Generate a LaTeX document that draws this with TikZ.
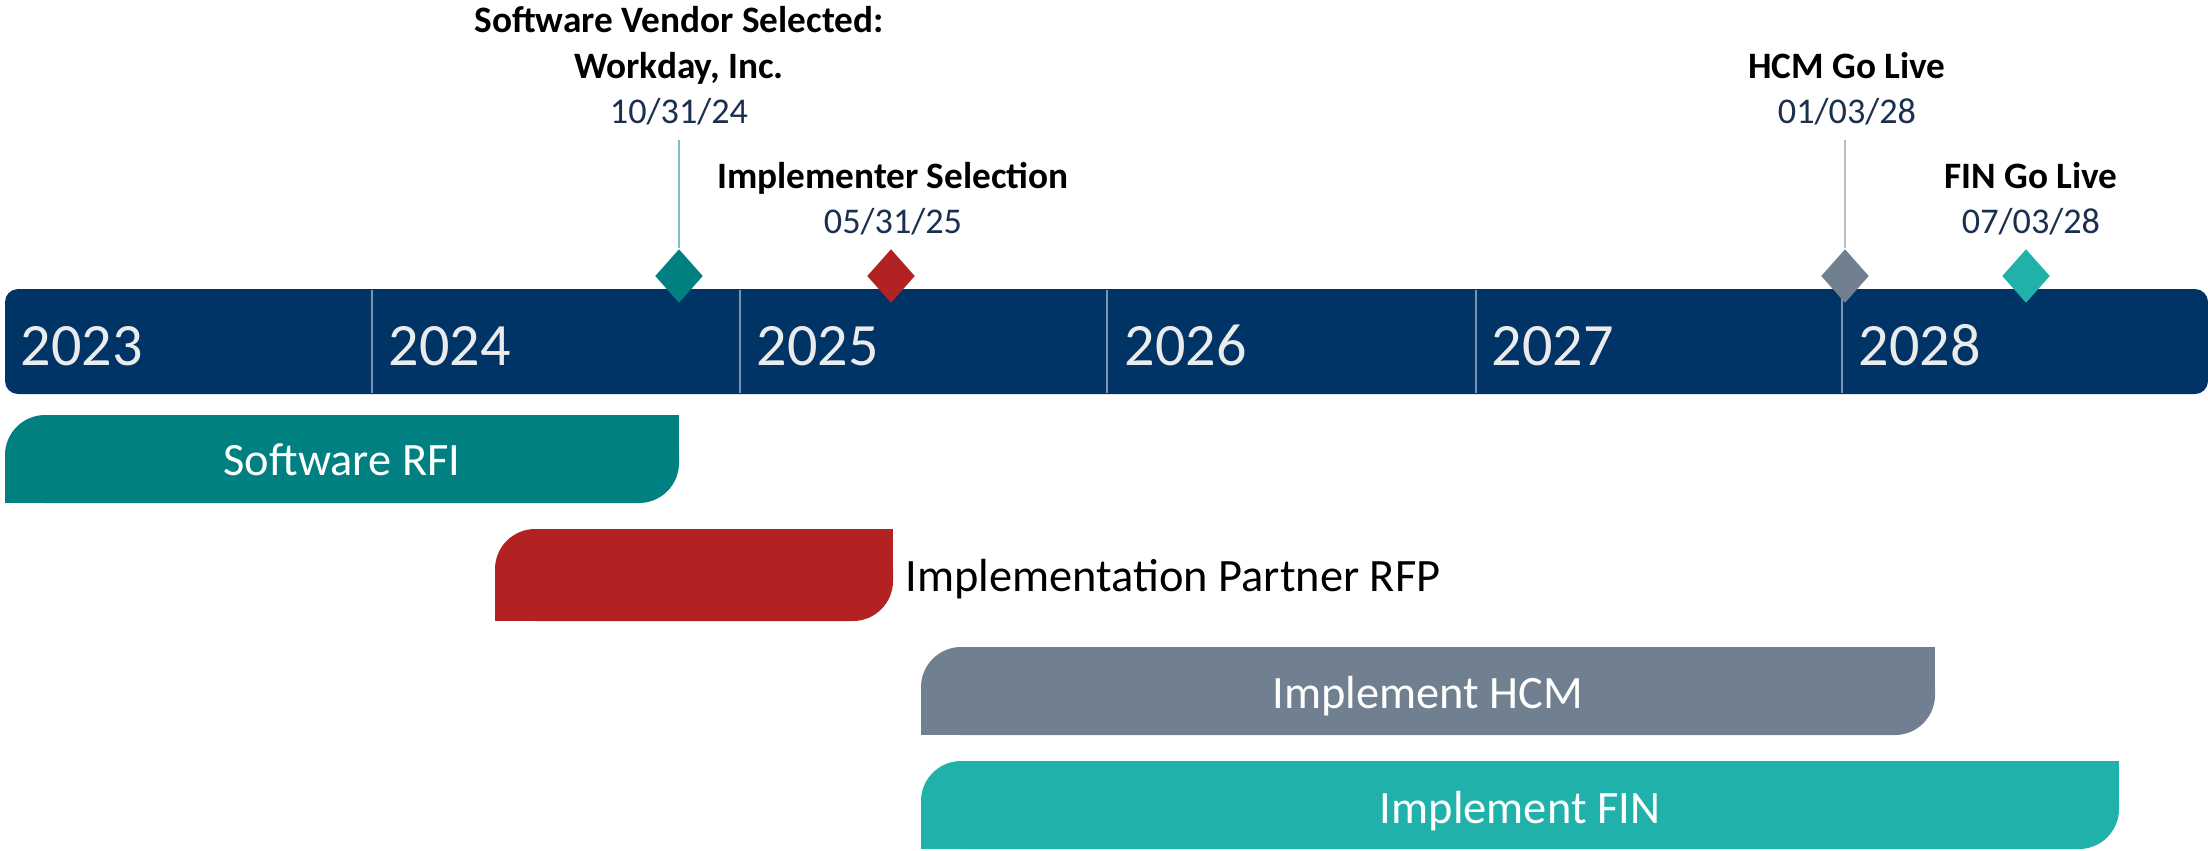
\documentclass[tikz,border=0pt]{standalone}
\usepackage{fontspec}
\setmainfont{Carlito}
\usetikzlibrary{shapes.geometric}

\definecolor{barnavy}{HTML}{003366}
\definecolor{datenavy}{HTML}{1B2F4E}
\definecolor{yeargray}{HTML}{EBEBEB}
\definecolor{yearline}{HTML}{7C93B0}
\definecolor{rfiteal}{HTML}{008080}
\definecolor{rfpred}{HTML}{B22222}
\definecolor{hcmgray}{HTML}{708090}
\definecolor{finteal}{HTML}{20B2AA}
\definecolor{tealstem}{HTML}{7FBFBF}
\definecolor{graystem}{HTML}{B4BEC9}

\tikzset{
  year/.style={anchor=base west, text=yeargray, inner sep=0pt, font=\fontsize{17.1}{20}\selectfont},
  divider/.style={yearline, line width=0.5pt},
  milestone/.style={anchor=base, inner sep=0pt, font=\fontsize{10.6}{12.7}\selectfont\bfseries},
  msdate/.style={anchor=base, inner sep=0pt, text=datenavy, font=\fontsize{10.3}{12.4}\selectfont},
  gem/.style={diamond, inner sep=0pt, minimum width=0.48cm, minimum height=0.54cm},
  stem/.style={line width=0.6pt},
  phase/.style={anchor=base, inner sep=0pt, text=white, font=\fontsize{13.2}{15.8}\selectfont}
}

\begin{document}
\begin{tikzpicture}[x=0.01cm, y=-0.01cm]

    % Fix the page to the size of the picture
    \useasboundingbox (0,0) rectangle (2208,850);

    % Year band
    \fill[barnavy, rounded corners=3.7pt] (5,289) rectangle (2208,394);

    % Year dividers
    \draw[divider] (372,290) -- (372,393);   % 2023 | 2024
    \draw[divider] (740,290) -- (740,393);   % 2024 | 2025
    \draw[divider] (1107,290) -- (1107,393); % 2025 | 2026
    \draw[divider] (1476,290) -- (1476,393); % 2026 | 2027
    \draw[divider] (1842,290) -- (1842,393); % 2027 | 2028

    % Year labels
    \node[year] (y2023) at (20,365) {2023};
    \node[year] (y2024) at (388,365) {2024};
    \node[year] (y2025) at (756,365) {2025};
    \node[year] (y2026) at (1124,365) {2026};
    \node[year] (y2027) at (1491,365) {2027};
    \node[year] (y2028) at (1858,365) {2028};

    % Milestone diamonds on the year band
    \node[gem, fill=rfiteal] (vendorgem) at (679,276) {};
    \node[gem, fill=rfpred] (partnergem) at (891,276) {};
    \node[gem, fill=hcmgray] (hcmgem) at (1845,276) {};
    \node[gem, fill=finteal] (fingem) at (2026,276) {};

    % Software vendor milestone
    \node[milestone] (vendor) at (679,32) {Software Vendor Selected:};
    \node[milestone] (vendorname) at (679,78) {Workday, Inc.};
    \node[msdate] (vendordate) at (679,123) {10/31/24};
    \coordinate (vendorstem) at (679,140);
    \draw[stem, tealstem] (vendorstem) -- (vendorgem.north);

    % Implementer milestone
    \node[milestone] (partner) at (893,188) {Implementer Selection};
    \node[msdate] (partnerdate) at (893,233) {05/31/25};

    % HCM go live milestone
    \node[milestone] (hcm) at (1847,78) {HCM Go Live};
    \node[msdate] (hcmdate) at (1847,123) {01/03/28};
    \coordinate (hcmstem) at (1845,140);
    \draw[stem, graystem] (hcmstem) -- (hcmgem.north);

    % FIN go live milestone
    \node[milestone] (fin) at (2031,188) {FIN Go Live};
    \node[msdate] (findate) at (2031,233) {07/03/28};

    % Software RFI phase
    \fill[rfiteal, rounded corners=11.4pt] (5,415) rectangle (679,503);
    \fill[rfiteal] (342,415) rectangle (679,459);  % square top right
    \fill[rfiteal] (5,459) rectangle (342,503);    % square bottom left
    \node[phase] (rfi) at (342,475) {Software RFI};

    % Implementation partner RFP phase
    \fill[rfpred, rounded corners=11.4pt] (495,529) rectangle (893,621);
    \fill[rfpred] (694,529) rectangle (893,575);   % square top right
    \fill[rfpred] (495,575) rectangle (694,621);   % square bottom left
    \node[phase, anchor=base west, text=black] (rfp) at (905,591) {Implementation Partner RFP};

    % Implement HCM phase
    \fill[hcmgray, rounded corners=11.4pt] (921,647) rectangle (1935,735);
    \fill[hcmgray] (1428,647) rectangle (1935,691); % square top right
    \fill[hcmgray] (921,691) rectangle (1428,735);  % square bottom left
    \node[phase] (hcmphase) at (1428,708) {Implement HCM};

    % Implement FIN phase
    \fill[finteal, rounded corners=11.4pt] (921,761) rectangle (2119,849);
    \fill[finteal] (1520,761) rectangle (2119,805); % square top right
    \fill[finteal] (921,805) rectangle (1520,849);  % square bottom left
    \node[phase] (finphase) at (1520,823) {Implement FIN};

\end{tikzpicture}
\end{document}
